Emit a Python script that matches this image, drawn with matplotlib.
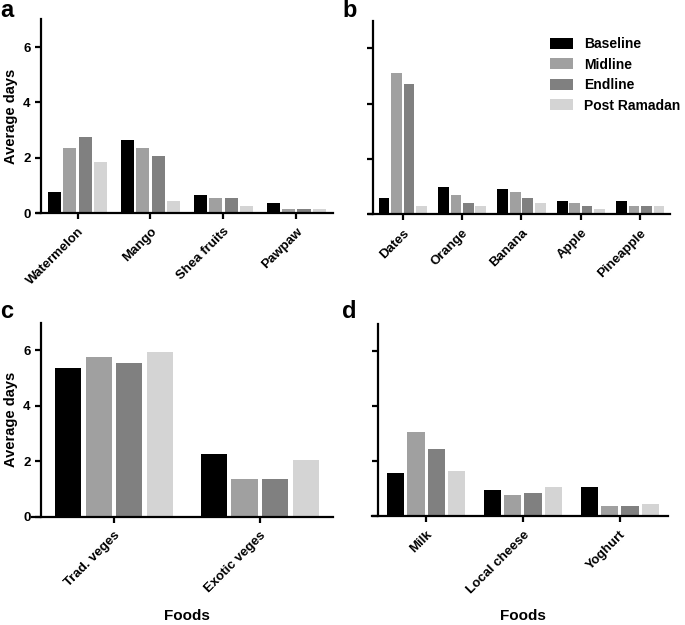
import numpy as np
import matplotlib.pyplot as plt

plt.rcParams['font.family'] = ['Liberation Sans', 'DejaVu Sans']
plt.rcParams['font.weight'] = 'bold'

# ── data ────────────────────────────────────────────────────────────────
SERIES = ["Baseline", "Midline", "Endline", "Post Ramadan"]
COLORS = ["#000000", "#a0a0a0", "#808080", "#d4d4d4"]

fruits_a = ["Watermelon", "Mango", "Shea fruits", "Pawpaw"]
baseline_a = [0.75, 2.65, 0.65, 0.35]
midline_a = [2.35, 2.35, 0.55, 0.15]
endline_a = [2.75, 2.05, 0.55, 0.15]
post_a = [1.85, 0.45, 0.25, 0.15]

fruits_b = ["Dates", "Orange", "Banana", "Apple", "Pineapple"]
baseline_b = [0.6, 1.0, 0.9, 0.5, 0.5]
midline_b = [5.1, 0.7, 0.8, 0.4, 0.3]
endline_b = [4.7, 0.4, 0.6, 0.3, 0.3]
post_b = [0.3, 0.3, 0.4, 0.2, 0.3]

veges_c = ["Trad. veges", "Exotic veges"]
baseline_c = [5.35, 2.25]
midline_c = [5.75, 1.35]
endline_c = [5.55, 1.35]
post_c = [5.95, 2.05]

dairy_d = ["Milk", "Local cheese", "Yoghurt"]
baseline_d = [1.55, 0.95, 1.05]
midline_d = [3.05, 0.75, 0.35]
endline_d = [2.45, 0.85, 0.35]
post_d = [1.65, 1.05, 0.45]

# ── layout ──────────────────────────────────────────────────────────────
W, H = 685, 625
fig = plt.figure(figsize=(W / 100, H / 100), dpi=100)
ax_a = fig.add_axes([0.0599, 0.659, 0.426, 0.310])
ax_b = fig.add_axes([0.5445, 0.657, 0.4336, 0.310])
ax_c = fig.add_axes([0.0599, 0.1733, 0.426, 0.3104])
ax_d = fig.add_axes([0.5514, 0.1744, 0.424, 0.308])

STEP, WIDTH = 0.21, 0.18


def draw_panel(ax, cats, values, show_y):
    x = np.arange(len(cats))
    for i, (vals, col, name) in enumerate(zip(values, COLORS, SERIES)):
        ax.bar(x + (i - 1.5) * STEP, vals, WIDTH, color=col, label=name,
               edgecolor='none')
    ax.set_xlim(-0.5, len(cats) - 0.5)
    ax.set_ylim(0, 7)
    ax.set_yticks([0, 2, 4, 6])
    ax.set_xticks(x)
    ax.set_xticklabels(cats, rotation=45, ha='right', rotation_mode='anchor',
                       fontsize=9.5, fontweight='bold')
    for s in ['top', 'right']:
        ax.spines[s].set_visible(False)
    for s in ['left', 'bottom']:
        ax.spines[s].set_linewidth(1.6)
    ax.spines['bottom'].set_bounds(-0.56, len(cats) - 0.5)
    ax.tick_params(axis='both', width=1.6, length=4, direction='out')
    ax.tick_params(axis='x', pad=5)
    if show_y:
        ax.set_yticklabels(['0', '2', '4', '6'], fontsize=9.5, fontweight='bold')
        ax.set_ylabel('Average days', fontsize=10.5, fontweight='bold',
                      labelpad=4)
    else:
        ax.set_yticklabels([])


draw_panel(ax_a, fruits_a, [baseline_a, midline_a, endline_a, post_a], True)
draw_panel(ax_b, fruits_b, [baseline_b, midline_b, endline_b, post_b], False)
draw_panel(ax_c, veges_c, [baseline_c, midline_c, endline_c, post_c], True)
draw_panel(ax_d, dairy_d, [baseline_d, midline_d, endline_d, post_d], False)

# "Foods" labels under the bottom row
for ax in (ax_c, ax_d):
    bb = ax.get_position()
    fig.text((bb.x0 + bb.x1) / 2, 1 - 620 / H, 'Foods', fontsize=11,
             fontweight='bold', ha='center', va='baseline')

ax_b.legend(loc='upper left', bbox_to_anchor=(550 / W, 1 - 37 / H),
            bbox_transform=fig.transFigure, frameon=False, borderpad=0,
            borderaxespad=0, fontsize=10, handlelength=1.65, handleheight=0.86,
            labelspacing=0.47, handletextpad=0.8)

# panel letters
for letter, px, py in [('a', 0, 17), ('b', 342, 17), ('c', 0, 318), ('d', 342, 318)]:
    fig.text(px / W, 1 - py / H, letter, fontsize=17, fontweight='bold',
             ha='left', va='baseline')

fig.savefig('out.png', dpi=100)
